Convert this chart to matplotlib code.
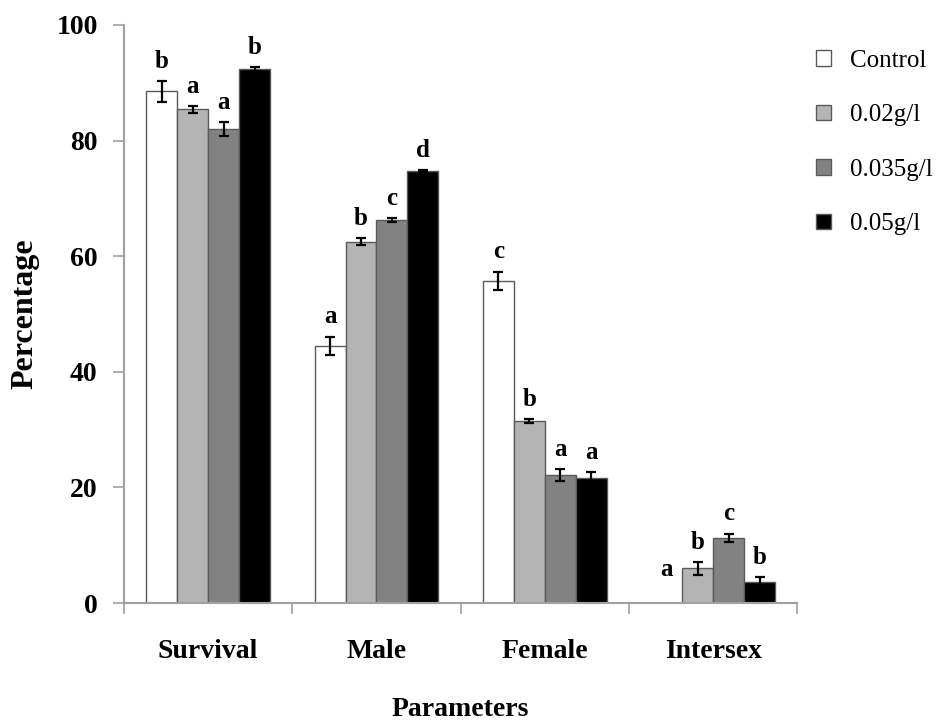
import matplotlib
matplotlib.use("Agg")
import matplotlib.pyplot as plt
import numpy as np

categories = ["Survival", "Male", "Female", "Intersex"]
series_names = ["Control", "0.02g/l", "0.035g/l", "0.05g/l"]
control = [88.5, 44.5, 55.7, 0.0]
conc_002 = [85.4, 62.5, 31.5, 6.0]
conc_0035 = [82.0, 66.3, 22.1, 11.3]
conc_005 = [92.4, 74.7, 21.6, 3.6]
err_control = [1.8, 1.6, 1.6, 0.0]
err_002 = [0.6, 0.6, 0.3, 1.1]
err_0035 = [1.2, 0.3, 1.0, 0.7]
err_005 = [0.3, 0.2, 1.0, 0.9]
letters_control = ["b", "a", "c", "a"]
letters_002 = ["a", "b", "b", "b"]
letters_0035 = ["a", "c", "a", "c"]
letters_005 = ["b", "d", "a", "b"]
y_ticks = [0, 20, 40, 60, 80, 100]

values = [control, conc_002, conc_0035, conc_005]
errors = [err_control, err_002, err_0035, err_005]
letters = [letters_control, letters_002, letters_0035, letters_005]
colors = ["#ffffff", "#b4b4b4", "#828282", "#000000"]

plt.rcParams["font.family"] = ["Liberation Serif", "DejaVu Serif"]

fig = plt.figure(figsize=(9.41, 7.22), dpi=100)
ax = fig.add_axes([0.1318, 0.1648, 0.8472 - 0.1318, 0.9654 - 0.1648])

x = np.arange(len(categories))
w = 0.184
for i in range(4):
    pos = x + (i - 1.5) * w
    vals = np.array(values[i])
    errs = np.array(errors[i])
    ax.bar(pos, vals, width=w, color=colors[i], edgecolor="#5a5a5a",
           linewidth=1.0, label=series_names[i], zorder=2)
    has_err = errs > 0
    ax.errorbar(pos[has_err], vals[has_err], yerr=errs[has_err], fmt="none",
                ecolor="black", elinewidth=1.6, capsize=3.6, capthick=1.6, zorder=3)
    for j in range(len(categories)):
        top = vals[j] + errs[j]
        off = 6 if top > 0 else 16
        ax.annotate(letters[i][j], (pos[j], top), xytext=(0, off),
                    textcoords="offset points", ha="center", va="bottom",
                    fontsize=18, fontweight="bold")

ax.set_xlim(-0.5, len(categories) - 0.5)
ax.set_ylim(0, 100)
ax.set_yticks(y_ticks)
ax.set_yticklabels([str(t) for t in y_ticks], fontsize=20, fontweight="bold")
ax.set_xticks(x)
ax.set_xticklabels(categories, fontsize=20, fontweight="bold")
ax.set_xticks(np.arange(len(categories) + 1) - 0.5, minor=True)
ax.tick_params(axis="x", which="major", length=0, pad=26)
ax.tick_params(axis="x", which="minor", length=8, width=1.2, color="#a0a0a0", direction="out")
ax.tick_params(axis="y", length=8, width=1.2, color="#a0a0a0", pad=11)

for s in ["top", "right"]:
    ax.spines[s].set_visible(False)
for s in ["left", "bottom"]:
    ax.spines[s].set_color("#a0a0a0")
    ax.spines[s].set_linewidth(1.5)

ax.set_ylabel("Percentage", fontsize=23, fontweight="bold", labelpad=12)
ax.set_xlabel("Parameters", fontsize=20, fontweight="bold", labelpad=24)

leg = ax.legend(loc="upper left", bbox_to_anchor=(0.867, 0.931),
                bbox_transform=fig.transFigure, frameon=False, fontsize=18,
                handlelength=0.6, handleheight=0.6, handletextpad=0.75,
                labelspacing=1.3, borderpad=0, borderaxespad=0)

fig.savefig("out.png", dpi=100, facecolor="white")
